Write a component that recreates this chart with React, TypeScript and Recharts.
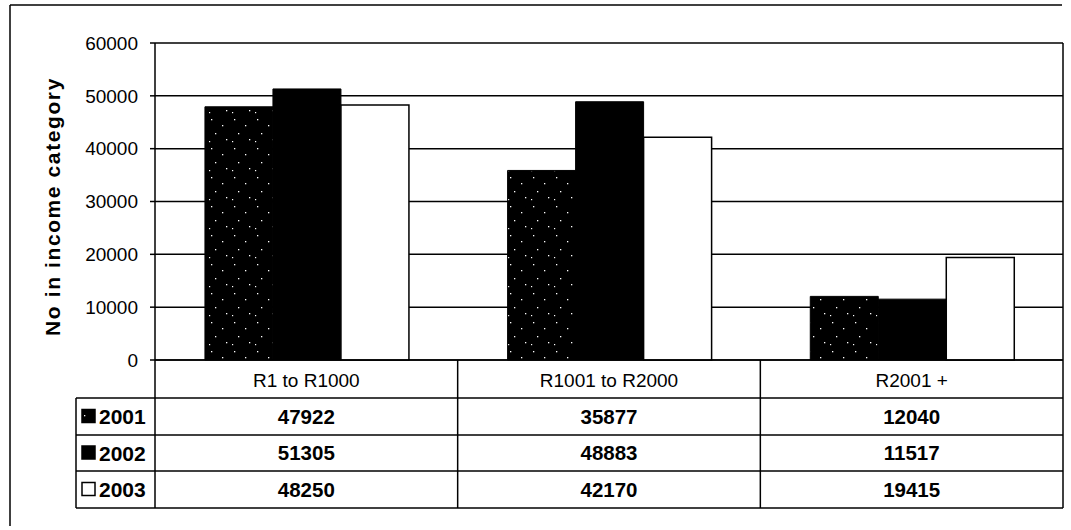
import React from 'react';
import { BarChart, Bar, XAxis, YAxis, CartesianGrid } from 'recharts';

const categories = ['R1 to R1000', 'R1001 to R2000', 'R2001 +'];
const series2001 = [47922, 35877, 12040];
const series2002 = [51305, 48883, 11517];
const series2003 = [48250, 42170, 19415];
const seriesNames = ['2001', '2002', '2003'];
const yTicks = [0, 10000, 20000, 30000, 40000, 50000, 60000];
const yTitle = 'No in income category';

const data = categories.map((c, i) => ({
  category: c,
  y2001: series2001[i],
  y2002: series2002[i],
  y2003: series2003[i],
}));

const W = 1071;
const H = 530;
const PLOT_LEFT = 155;
const PLOT_RIGHT = 1063;
const PLOT_TOP = 43;
const PLOT_BOTTOM = 360;
const TABLE_LEFT = 76;
const FONT = '"Liberation Sans", Arial, sans-serif';
const HALF = (PLOT_RIGHT - PLOT_LEFT) / categories.length / 2;
const ROW_OFFS = [38, 75, 111, 148];
const rowValues = [series2001, series2002, series2003];
const keyFills = ['url(#stipple)', '#000', '#fff'];

const TableTick = (props: any) => {
  const { x, y, payload, index } = props;
  const bottom = y + ROW_OFFS[3];
  return (
    <g>
      {index === 0 && (
        <g>
          {ROW_OFFS.map((o, i) => (
            <line key={'h' + i} x1={TABLE_LEFT} x2={PLOT_RIGHT} y1={y + o} y2={y + o} stroke="#000" strokeWidth={1.5} />
          ))}
          <line x1={TABLE_LEFT} x2={TABLE_LEFT} y1={y + ROW_OFFS[0]} y2={bottom} stroke="#000" strokeWidth={1.5} />
          <line x1={x - HALF} x2={x - HALF} y1={y} y2={bottom} stroke="#000" strokeWidth={1.5} />
          {seriesNames.map((n, r) => {
            const cy = y + (ROW_OFFS[r] + ROW_OFFS[r + 1]) / 2;
            return (
              <g key={n}>
                <rect x={82} y={cy - 7} width={13} height={13} fill={keyFills[r]} stroke="#000" strokeWidth={1.5} />
                <text x={99} y={cy} dy="0.36em" fontFamily={FONT} fontSize={21} fontWeight="bold" fill="#000">{n}</text>
              </g>
            );
          })}
        </g>
      )}
      <line x1={x + HALF} x2={x + HALF} y1={y} y2={bottom} stroke="#000" strokeWidth={1.5} />
      <text x={x} y={y + 20} dy="0.36em" textAnchor="middle" fontFamily={FONT} fontSize={19} fill="#000">
        {payload.value}
      </text>
      {rowValues.map((vals, r) => {
        const cy = y + (ROW_OFFS[r] + ROW_OFFS[r + 1]) / 2;
        return (
          <text key={r} x={x} y={cy} dy="0.36em" textAnchor="middle" fontFamily={FONT} fontSize={20.5} fontWeight="bold" fill="#000">
            {vals[index]}
          </text>
        );
      })}
    </g>
  );
};

const YTitle = (props: any) => {
  const vb = props.viewBox || { y: PLOT_TOP, height: PLOT_BOTTOM - PLOT_TOP };
  const cy = vb.y + vb.height / 2 + 5;
  return (
    <text
      x={52}
      y={cy}
      transform={`rotate(-90 52 ${cy})`}
      textAnchor="middle"
      dy="0.36em"
      fontFamily={FONT}
      fontSize={21}
      fontWeight="bold"
      letterSpacing={1.6}
      fill="#000"
    >
      {yTitle}
    </text>
  );
};

export default function App() {
  return (
    <div style={{ position: 'absolute', left: 0, top: 0, width: W, height: H, background: '#fff' }}>
      <BarChart
        width={W}
        height={H}
        data={data}
        margin={{ top: PLOT_TOP, right: W - PLOT_RIGHT, left: 0, bottom: 2 }}
        barCategoryGap="16.5%"
        barGap={0}
      >
        <defs>
          <pattern id="stipple" width="23" height="29" patternUnits="userSpaceOnUse">
            <rect width="23" height="29" fill="#000" />
            <rect x="4" y="3" width="1.3" height="1.3" fill="#fff" />
            <rect x="15" y="9" width="1.3" height="1.3" fill="#fff" />
            <rect x="8" y="17" width="1.3" height="1.3" fill="#fff" />
            <rect x="19" y="23" width="1.3" height="1.3" fill="#fff" />
            <rect x="2" y="25" width="1.2" height="1.2" fill="#fff" />
          </pattern>
        </defs>
        <CartesianGrid stroke="#000" strokeWidth={1.5} verticalPoints={[PLOT_RIGHT]} />
        <XAxis
          dataKey="category"
          height={H - PLOT_BOTTOM - 2}
          axisLine={{ stroke: '#000', strokeWidth: 1.5 }}
          tickLine={false}
          tickSize={0}
          tickMargin={0}
          interval={0}
          tick={<TableTick />}
        />
        <YAxis
          width={PLOT_LEFT}
          domain={[0, 60000]}
          ticks={yTicks}
          interval={0}
          axisLine={{ stroke: '#000', strokeWidth: 1.5 }}
          tickLine={{ stroke: '#000', strokeWidth: 1.5 }}
          tickSize={5}
          tickMargin={12}
          tick={{ fill: '#000', fontFamily: FONT, fontSize: 19 }}
          label={{ content: <YTitle /> }}
        />
        <Bar dataKey="y2001" fill="url(#stipple)" stroke="#000" strokeWidth={1} isAnimationActive={false} />
        <Bar dataKey="y2002" fill="#000" stroke="#000" strokeWidth={1} isAnimationActive={false} />
        <Bar dataKey="y2003" fill="#fff" stroke="#000" strokeWidth={1.5} isAnimationActive={false} />
      </BarChart>
      <svg width={W} height={H} style={{ position: 'absolute', left: 0, top: 0, pointerEvents: 'none' }}>
        <line x1={10} x2={1062} y1={5} y2={5} stroke="#000" strokeWidth={1.5} />
        <line x1={10} x2={10} y1={5} y2={526} stroke="#000" strokeWidth={1.5} />
      </svg>
    </div>
  );
}
